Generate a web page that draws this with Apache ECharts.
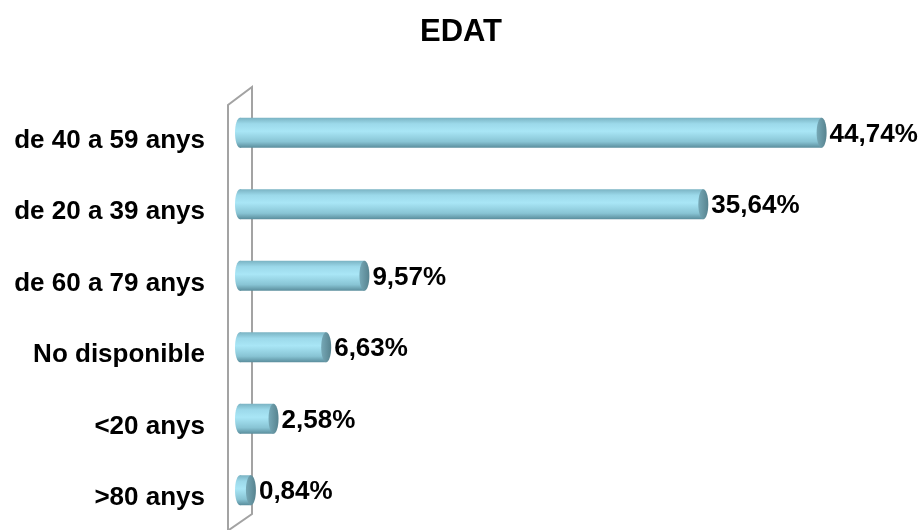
<!DOCTYPE html>
<html>
<head>
<meta charset="utf-8">
<script src="https://cdn.jsdelivr.net/npm/echarts@6/dist/echarts.min.js"></script>
<style>
  html, body { margin: 0; padding: 0; background: #fff; }
  #chart { width: 922px; height: 530px; }
</style>
</head>
<body>
<div id="chart"></div>
<script>
const categories = ['de 40 a 59 anys', 'de 20 a 39 anys', 'de 60 a 79 anys', 'No disponible', '<20 anys', '>80 anys']
const values = [44.74, 35.64, 9.57, 6.63, 2.58, 0.84]

const fontFamily = '"Liberation Sans", Arial, sans-serif'

const chart = echarts.init(document.getElementById('chart'))

// cylinder body shading (top to bottom)
const bodyFill = new echarts.graphic.LinearGradient(0, 0, 0, 1, [
  { offset: 0, color: '#7ab3c3' },
  { offset: 0.2, color: '#9cd9ea' },
  { offset: 0.45, color: '#a9e6f6' },
  { offset: 0.8, color: '#88c4d4' },
  { offset: 1, color: '#5a8d9c' }
])
const capFill = new echarts.graphic.LinearGradient(0, 0, 1, 0, [
  { offset: 0, color: '#76a8b6' },
  { offset: 1, color: '#57838f' }
])

function fmt(v) {
  return v.toFixed(2).replace('.', ',') + '%'
}

chart.setOption({
  animation: false,
  title: {
    text: 'EDAT',
    left: 'center',
    top: 12,
    textStyle: { fontFamily, fontSize: 31, fontWeight: 'bold', color: '#000' }
  },
  grid: { left: 240, right: 97, top: 97, bottom: 4 },
  xAxis: {
    type: 'value',
    min: 0,
    max: 45,
    show: false
  },
  yAxis: {
    type: 'category',
    data: categories,
    inverse: true,
    axisLine: { show: false },
    axisTick: { show: false },
    splitLine: { show: false },
    axisLabel: {
      margin: 35,
      color: '#000',
      fontFamily,
      fontSize: 26,
      fontWeight: 'bold',
      verticalAlign: 'top',
      lineHeight: 16
    }
  },
  graphic: [{
    type: 'polyline',
    z: 0,
    shape: { points: [[228, 532], [228, 105], [252, 87], [252, 514], [226, 532]] },
    style: { stroke: '#a3a3a3', lineWidth: 2, fill: null }
  }],
  series: [{
    type: 'custom',
    z: 5,
    data: values.map((v, i) => [v, i]),
    encode: { x: 0, y: 1 },
    renderItem(params, api) {
      const v = api.value(0)
      const start = api.coord([0, api.value(1)])
      const end = api.coord([v, api.value(1)])
      const cy = start[1]
      const h = 30
      const rx = 5
      return {
        type: 'group',
        children: [
          {
            type: 'ellipse',
            shape: { cx: start[0], cy, rx, ry: h / 2 },
            style: { fill: bodyFill }
          },
          {
            type: 'rect',
            shape: { x: start[0], y: cy - h / 2, width: end[0] - start[0], height: h },
            style: { fill: bodyFill }
          },
          {
            type: 'ellipse',
            shape: { cx: end[0], cy, rx, ry: h / 2 },
            style: { fill: capFill }
          },
          {
            type: 'text',
            style: {
              x: end[0] + rx + 3,
              y: cy + 2,
              text: fmt(v),
              verticalAlign: 'middle',
              align: 'left',
              fill: '#000',
              font: 'bold 26px ' + fontFamily
            }
          }
        ]
      }
    }
  }]
})
</script>
</body>
</html>
